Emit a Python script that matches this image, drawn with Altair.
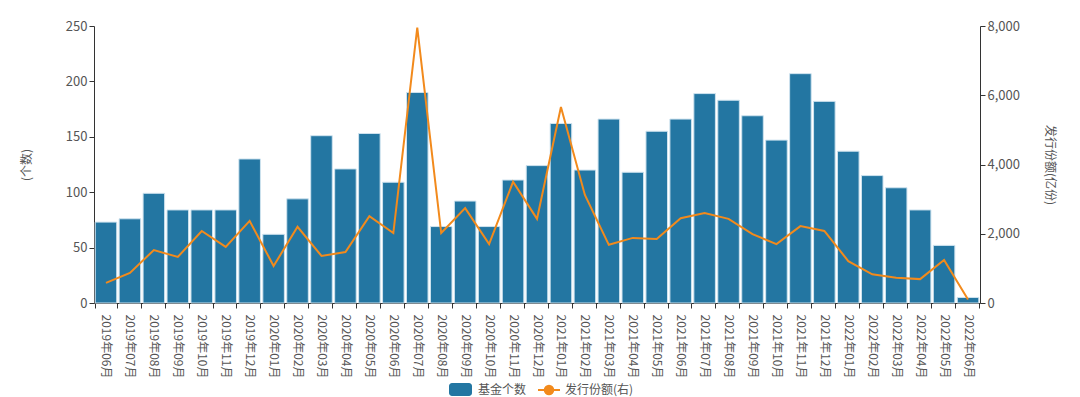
import altair as alt
import pandas as pd

months = ["2019年06月","2019年07月","2019年08月","2019年09月","2019年10月","2019年11月","2019年12月",
          "2020年01月","2020年02月","2020年03月","2020年04月","2020年05月","2020年06月","2020年07月",
          "2020年08月","2020年09月","2020年10月","2020年11月","2020年12月","2021年01月","2021年02月",
          "2021年03月","2021年04月","2021年05月","2021年06月","2021年07月","2021年08月","2021年09月",
          "2021年10月","2021年11月","2021年12月","2022年01月","2022年02月","2022年03月","2022年04月",
          "2022年05月","2022年06月"]
fund_count = [73,76,99,84,84,84,130,62,94,151,121,153,109,190,69,92,69,111,124,162,120,
              166,118,155,166,189,183,169,147,207,182,137,115,104,84,52,5]
issue_share = [580,870,1530,1330,2080,1620,2370,1070,2200,1360,1470,2510,2020,7950,2020,2740,
               1700,3500,2430,5660,3120,1680,1880,1850,2450,2600,2430,1990,1700,2220,2080,
               1210,830,730,690,1240,100]

df = pd.DataFrame({"month": months, "count": fund_count, "share": issue_share})

FONT = "Noto Sans CJK SC"
BLUE = "#2376a2"
ORANGE = "#f28a1c"
GREY = "#555555"

xenc = alt.X("month:N", sort=months, title=None,
             scale=alt.Scale(paddingInner=0.1, paddingOuter=0.05),
             axis=alt.Axis(labelAngle=90, labelAlign="left", labelBaseline="middle",
                           labelFontSize=12, labelColor=GREY, labelFont=FONT,
                           tickBand="extent", domainColor="#333333", tickColor="#333333",
                           labelPadding=6, grid=False))

bars = alt.Chart(df).mark_bar(color=BLUE, stroke="#cfe3ef", strokeWidth=1).encode(
    x=xenc,
    y=alt.Y("count:Q", scale=alt.Scale(domain=[0, 250]),
            axis=alt.Axis(values=[0,50,100,150,200,250], title="(个数)", grid=False,
                          labelFontSize=13, labelColor=GREY, titleColor=GREY, titleFontSize=12,
                          titleFontWeight="normal", titleFont=FONT, labelFont=FONT,
                          titlePadding=32, domainColor="#333333", tickColor="#333333"))
)

line = alt.Chart(df).mark_line(color=ORANGE, strokeWidth=2).encode(
    x=xenc,
    y=alt.Y("share:Q", scale=alt.Scale(domain=[0, 8000]),
            axis=alt.Axis(orient="right", values=[0,2000,4000,6000,8000], format=",.0f",
                          title="发行份额(亿份)", grid=False,
                          labelFontSize=13, labelColor=GREY, titleColor=GREY, titleFontSize=12,
                          titleFontWeight="normal", titleFont=FONT, labelFont=FONT,
                          titlePadding=23, domainColor="#333333", tickColor="#333333"))
)

leg = pd.DataFrame({"k": [0]})
leg_rect = alt.Chart(leg).mark_rect(color=BLUE, cornerRadius=3).encode(
    x=alt.value(355), x2=alt.value(378), y=alt.value(357), y2=alt.value(370))
leg_t1 = alt.Chart(leg).mark_text(align="left", baseline="middle", fontSize=12, font=FONT, color=GREY).encode(
    x=alt.value(384), y=alt.value(364), text=alt.value("基金个数"))
leg_line = alt.Chart(leg).mark_rule(color=ORANGE, strokeWidth=2).encode(
    x=alt.value(444), x2=alt.value(466), y=alt.value(364), y2=alt.value(364))
leg_pt = alt.Chart(leg).mark_point(color=ORANGE, filled=True, size=110, opacity=1).encode(
    x=alt.value(455), y=alt.value(364))
leg_t2 = alt.Chart(leg).mark_text(align="left", baseline="middle", fontSize=12, font=FONT, color=GREY).encode(
    x=alt.value(471), y=alt.value(364), text=alt.value("发行份额(右)"))

chart = alt.layer(bars, line, leg_rect, leg_t1, leg_line, leg_pt, leg_t2).resolve_scale(
    y="independent").properties(
    width=886, height=277,
    autosize=alt.AutoSizeParams(type="none"),
    padding={"left": 86, "top": 18, "right": 92, "bottom": 100},
).configure(font=FONT).configure_view(strokeWidth=0, stroke="transparent").configure_axis(grid=False)

chart.save("out.html", embed_options={"renderer": "svg", "actions": False})
